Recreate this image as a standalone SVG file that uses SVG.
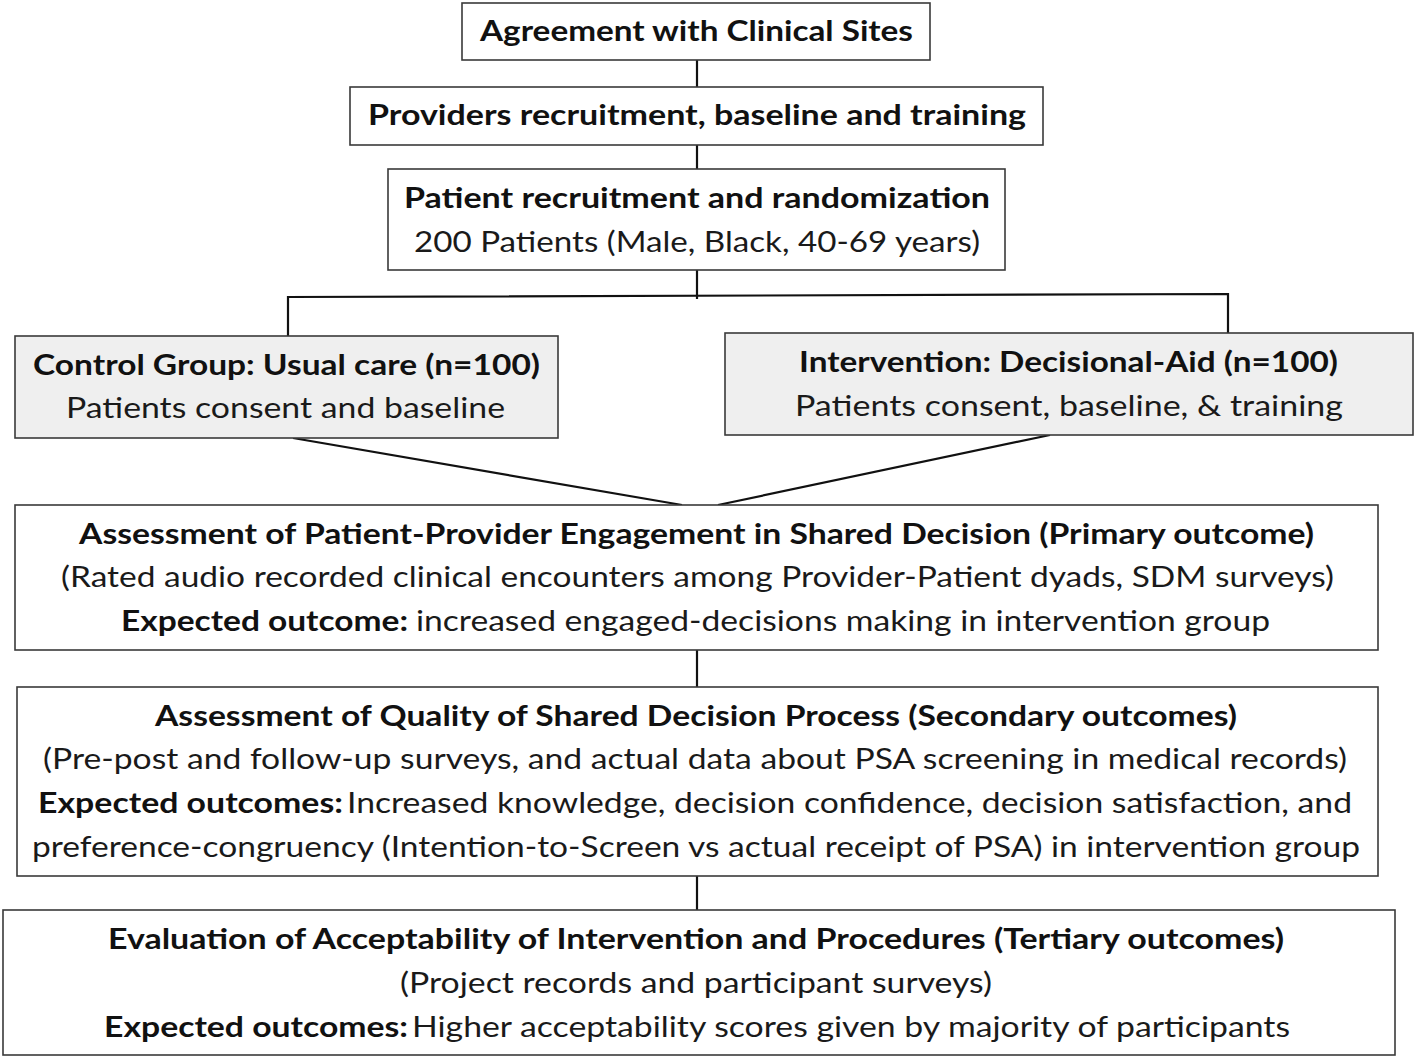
<svg xmlns="http://www.w3.org/2000/svg" width="1416" height="1059" viewBox="0 0 1416 1059">
<style>
.box{fill:#fff;stroke:#3a3a3a;stroke-width:1.6}
.gbox{fill:#efefef;stroke:#3a3a3a;stroke-width:1.6}
.c{fill:none;stroke:#111;stroke-width:2.2}
text{font-family:Lato,"Liberation Sans",Arial,sans-serif;font-size:29px;fill:#1a1a1a}
.b{font-weight:bold;fill:#111}
</style>
<g id="connectors">
<line class="c" x1="697" y1="60" x2="697" y2="87"/>
<line class="c" x1="697" y1="145" x2="697" y2="169"/>
<line class="c" x1="697" y1="270" x2="697" y2="299"/>
<polyline class="c" points="288,336 288,297 1228,294 1228,333"/>
<line class="c" x1="293" y1="438" x2="682" y2="505"/>
<line class="c" x1="1050" y1="435" x2="718" y2="505"/>
<line class="c" x1="697" y1="650" x2="697" y2="687"/>
<line class="c" x1="697" y1="876" x2="697" y2="910"/>
</g>
<g id="agreement">
<rect class="box" x="462" y="3" width="468" height="57"/>
<text class="b" x="480" y="41" textLength="433" lengthAdjust="spacingAndGlyphs">Agreement with Clinical Sites</text>
</g>
<g id="providers">
<rect class="box" x="350" y="87" width="693" height="58"/>
<text class="b" x="368" y="125" textLength="658" lengthAdjust="spacingAndGlyphs">Providers recruitment, baseline and training</text>
</g>
<g id="patients">
<rect class="box" x="388" y="169" width="617" height="101"/>
<text class="b" x="404" y="208" textLength="586" lengthAdjust="spacingAndGlyphs">Patient recruitment and randomization</text>
<text x="414" y="252" textLength="566" lengthAdjust="spacingAndGlyphs">200 Patients (Male, Black, 40-69 years)</text>
</g>
<g id="control">
<rect class="gbox" x="15" y="336" width="543" height="102"/>
<text class="b" x="33" y="375" textLength="507" lengthAdjust="spacingAndGlyphs">Control Group: Usual care (n=100)</text>
<text x="66" y="418" textLength="439" lengthAdjust="spacingAndGlyphs">Patients consent and baseline</text>
</g>
<g id="intervention">
<rect class="gbox" x="725" y="333" width="688" height="102"/>
<text class="b" x="799" y="372" textLength="539" lengthAdjust="spacingAndGlyphs">Intervention: Decisional-Aid (n=100)</text>
<text x="795" y="416" textLength="548" lengthAdjust="spacingAndGlyphs">Patients consent, baseline, &amp; training</text>
</g>
<g id="primary">
<rect class="box" x="15" y="505" width="1363" height="145"/>
<text class="b" x="79" y="544" textLength="1235" lengthAdjust="spacingAndGlyphs">Assessment of Patient-Provider Engagement in Shared Decision (Primary outcome)</text>
<text x="61" y="587" textLength="1273" lengthAdjust="spacingAndGlyphs">(Rated audio recorded clinical encounters among Provider-Patient dyads, SDM surveys)</text>
<text y="631"><tspan class="b" x="121" textLength="287" lengthAdjust="spacingAndGlyphs">Expected outcome:</tspan><tspan x="416" textLength="854" lengthAdjust="spacingAndGlyphs">increased engaged-decisions making in intervention group</tspan></text>
</g>
<g id="secondary">
<rect class="box" x="17" y="687" width="1361" height="189"/>
<text class="b" x="155" y="726" textLength="1082" lengthAdjust="spacingAndGlyphs">Assessment of Quality of Shared Decision Process (Secondary outcomes)</text>
<text x="43" y="769" textLength="1304" lengthAdjust="spacingAndGlyphs">(Pre-post and follow-up surveys, and actual data about PSA screening in medical records)</text>
<text y="813"><tspan class="b" x="38" textLength="305" lengthAdjust="spacingAndGlyphs">Expected outcomes:</tspan><tspan x="347" textLength="1005" lengthAdjust="spacingAndGlyphs">Increased knowledge, decision confidence, decision satisfaction, and</tspan></text>
<text x="32" y="857" textLength="1328" lengthAdjust="spacingAndGlyphs">preference-congruency (Intention-to-Screen vs actual receipt of PSA) in intervention group</text>
</g>
<g id="tertiary">
<rect class="box" x="3" y="910" width="1392" height="145"/>
<text class="b" x="108" y="949" textLength="1176" lengthAdjust="spacingAndGlyphs">Evaluation of Acceptability of Intervention and Procedures (Tertiary outcomes)</text>
<text x="400" y="993" textLength="592" lengthAdjust="spacingAndGlyphs">(Project records and participant surveys)</text>
<text y="1037"><tspan class="b" x="104" textLength="304" lengthAdjust="spacingAndGlyphs">Expected outcomes:</tspan><tspan x="412" textLength="878" lengthAdjust="spacingAndGlyphs">Higher acceptability scores given by majority of participants</tspan></text>
</g>
</svg>
